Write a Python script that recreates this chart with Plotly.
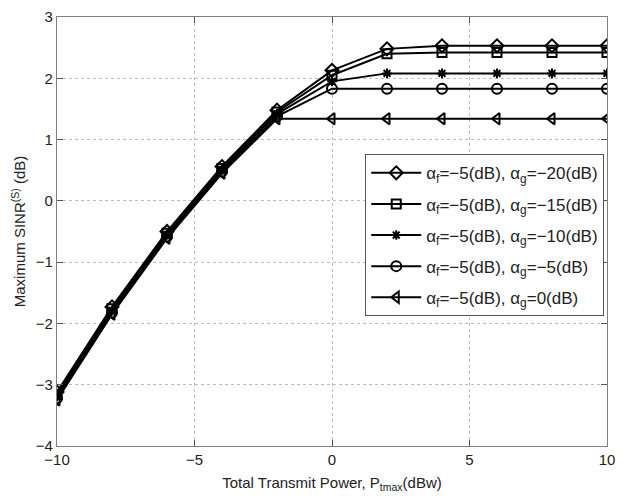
import plotly.graph_objects as go

# Total transmit power (dBw)
p_tmax = [-10, -8, -6, -4, -2, 0, 2, 4, 6, 8, 10]

# Maximum SINR (dB) for alpha_f = -5 dB and several alpha_g values
sinr_g_m20 = [-3.12, -1.73, -0.50, 0.56, 1.48, 2.13, 2.48, 2.53, 2.53, 2.53, 2.53]
sinr_g_m15 = [-3.16, -1.76, -0.53, 0.53, 1.45, 2.05, 2.40, 2.42, 2.42, 2.42, 2.42]
sinr_g_m10 = [-3.19, -1.79, -0.55, 0.51, 1.42, 1.95, 2.08, 2.08, 2.08, 2.08, 2.08]
sinr_g_m5 = [-3.22, -1.82, -0.58, 0.48, 1.38, 1.83, 1.83, 1.83, 1.83, 1.83, 1.83]
sinr_g_0 = [-3.25, -1.85, -0.61, 0.45, 1.34, 1.34, 1.34, 1.34, 1.34, 1.34, 1.34]

series_names = [
    "α<sub>f</sub>=−5(dB), α<sub>g</sub>=−20(dB)",
    "α<sub>f</sub>=−5(dB), α<sub>g</sub>=−15(dB)",
    "α<sub>f</sub>=−5(dB), α<sub>g</sub>=−10(dB)",
    "α<sub>f</sub>=−5(dB), α<sub>g</sub>=−5(dB)",
    "α<sub>f</sub>=−5(dB), α<sub>g</sub>=0(dB)",
]
series_values = [sinr_g_m20, sinr_g_m15, sinr_g_m10, sinr_g_m5, sinr_g_0]
symbols = ["diamond-open", "square-open", "asterisk-open", "circle-open", "triangle-left-open"]
sizes = [10, 9, 8, 10, 10]

fig = go.Figure()
for i, (name, vals, sym, sz) in enumerate(zip(series_names, series_values, symbols, sizes)):
    fig.add_trace(go.Scatter(
        x=p_tmax, y=vals, name=name, mode="lines+markers",
        legendgroup=f"g{i}",
        line=dict(color="black", width=2),
        marker=dict(symbol=sym, size=sz, color="black",
                    line=dict(color="black", width=2)),
        cliponaxis=True,
    ))

axis_common = dict(
    showline=True, linecolor="#7f7f7f", linewidth=1.2, mirror="allticks",
    ticks="inside", ticklen=6, tickcolor="#555555", tickwidth=1,
    showgrid=True, gridcolor="#bdbdbd", griddash="dot", gridwidth=1,
    zeroline=False, tickfont=dict(size=15, color="#222222"),
)

fig.update_xaxes(range=[-10, 10], dtick=5, tick0=-10,
                 title=dict(text="Total Transmit Power, P<sub>tmax</sub>(dBw)",
                            font=dict(size=15, color="#222222"), standoff=10),
                 **axis_common)
fig.update_yaxes(range=[-4, 3], dtick=1, tick0=-4,
                 title=dict(text="Maximum SINR<sup>(S)</sup> (dB)",
                            font=dict(size=15, color="#222222"), standoff=6),
                 **axis_common)

fig.update_layout(
    width=623, height=497,
    margin=dict(l=57, r=8, t=15, b=50),
    paper_bgcolor="white", plot_bgcolor="white",
    font=dict(family="Liberation Sans, Arial, sans-serif", color="#222222"),
    legend=dict(
        x=0.995, y=0.68, xanchor="right", yanchor="top",
        bgcolor="white", bordercolor="#555555", borderwidth=1,
        font=dict(size=17, color="#222222"), tracegroupgap=6,
        itemwidth=50,
    ),
)

fig.write_html("out.html")
